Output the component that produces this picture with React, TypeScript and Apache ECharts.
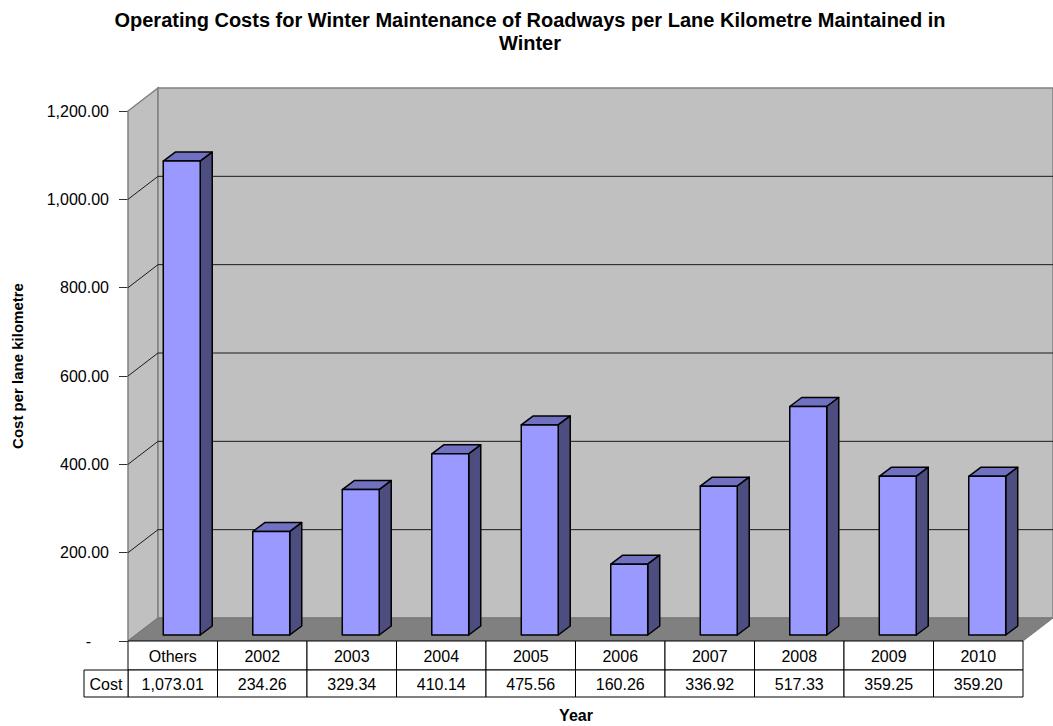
import React, { useEffect, useRef } from 'react';
import * as echarts from 'echarts';

const categories = ['Others', '2002', '2003', '2004', '2005', '2006', '2007', '2008', '2009', '2010'];
const costs = [1073.01, 234.26, 329.34, 410.14, 475.56, 160.26, 336.92, 517.33, 359.25, 359.2];
const gridTicks = [200, 400, 600, 800, 1000];
const titleLines = ['Operating Costs for Winter Maintenance of Roadways per Lane Kilometre Maintained in', 'Winter'];
const yTitle = 'Cost per lane kilometre';
const xTitle = 'Year';
const rowLabel = 'Cost';

const FONT = '"Liberation Sans", Arial, Helvetica, sans-serif';

const fmt = (v: number) => v.toLocaleString('en-US', { minimumFractionDigits: 2, maximumFractionDigits: 2 });

function txt(text: string, x: number, y: number, size: number, bold = false, extra: any = {}) {
  return {
    type: 'text',
    ...extra,
    style: {
      text, x, y,
      align: 'center', verticalAlign: 'middle',
      textAlign: 'center', textVerticalAlign: 'middle',
      fontSize: size, fontFamily: FONT, fontWeight: bold ? 'bold' : 'normal',
      fill: '#000',
    },
  };
}

export default function App() {
  const ref = useRef<HTMLDivElement>(null);
  useEffect(() => {
    const chart = echarts.init(ref.current!, null, { renderer: 'svg' });
    const DX = 30, DY = -23;        // wall depth
    const BDX = 12, BDY = -9;       // bar depth
    const BOX = 9, BOY = -6;        // bar front offset from front plane
    const option: any = {
      animation: false,
      grid: { left: 128, top: 111, width: 895, height: 530 },
      xAxis: { type: 'category', data: categories, show: false },
      yAxis: {
        type: 'value', min: 0, max: 1200, interval: 200,
        axisLine: { show: true, lineStyle: { color: '#808080', width: 1 } },
        axisTick: { show: true, length: 9, lineStyle: { color: '#333', width: 1 } },
        splitLine: { show: false },
        axisLabel: {
          margin: 19, fontSize: 16, color: '#000', fontFamily: FONT,
          formatter: (v: number) => (v === 0 ? '{d|-}' : fmt(v)),
          rich: { d: { padding: [0, 18, 0, 0], fontSize: 16, color: '#000', fontFamily: FONT } },
        },
      },
      graphic: [
        txt(titleLines[0], 530, 20, 20, true),
        txt(titleLines[1], 530, 43, 20, true),
        txt(yTitle, 0, 0, 15, true, { rotation: Math.PI / 2, x: 17, y: 366 }),
        txt(xTitle, 576, 715, 16, true),
      ],
      series: [
        {
          type: 'custom', z: 1, silent: true,
          data: [[0, 0]],
          renderItem: (params: any, api: any) => {
            const cs = params.coordSys;
            const x0 = cs.x, x1 = cs.x + cs.width, yT = cs.y, yB = cs.y + cs.height;
            const children: any[] = [];
            children.push({ type: 'polygon', shape: { points: [[x0, yT], [x0 + DX, yT + DY], [x0 + DX, yB + DY], [x0, yB]] }, style: { fill: '#c0c0c0', stroke: '#808080', lineWidth: 1.5 } });
            children.push({ type: 'rect', shape: { x: x0 + DX, y: yT + DY, width: x1 - x0, height: yB - yT }, style: { fill: '#c0c0c0', stroke: '#808080', lineWidth: 1.5 } });
            children.push({ type: 'polygon', shape: { points: [[x0, yB], [x0 + DX, yB + DY], [x1 + DX, yB + DY], [x1, yB]] }, style: { fill: '#808080', stroke: '#777', lineWidth: 1 } });
            gridTicks.forEach((v) => {
              const y = api.coord([0, v])[1];
              children.push({ type: 'line', shape: { x1: x0 + DX, y1: y + DY, x2: x1 + DX, y2: y + DY }, style: { stroke: '#1a1a1a', lineWidth: 1 } });
              children.push({ type: 'line', shape: { x1: x0, y1: y, x2: x0 + DX, y2: y + DY }, style: { stroke: '#1a1a1a', lineWidth: 1 } });
            });
            return { type: 'group', children };
          },
        },
        {
          type: 'custom', z: 2, silent: true,
          data: costs.map((v, i) => [i, v]),
          renderItem: (params: any, api: any) => {
            const i = api.value(0), v = api.value(1);
            const bw = api.size([1, 0])[0];
            const base = api.coord([i, 0]);
            const top = api.coord([i, v]);
            const w = bw * 0.413;
            const l = base[0] - w / 2 + BOX, r = l + w;
            const b = base[1] + BOY, t = top[1] + BOY;
            const st = { stroke: '#000', lineWidth: 1.5, lineJoin: 'round' };
            return {
              type: 'group',
              children: [
                { type: 'polygon', shape: { points: [[l, t], [l + BDX, t + BDY], [r + BDX, t + BDY], [r, t]] }, style: { fill: '#7171c1', ...st } },
                { type: 'polygon', shape: { points: [[r, t], [r + BDX, t + BDY], [r + BDX, b + BDY], [r, b]] }, style: { fill: '#4d4d80', ...st } },
                { type: 'rect', shape: { x: l, y: t, width: w, height: b - t }, style: { fill: '#9999ff', ...st } },
              ],
            };
          },
        },
        {
          type: 'custom', z: 3, silent: true,
          data: categories.map((c, i) => [i, costs[i]]),
          renderItem: (params: any, api: any) => {
            const i = api.value(0);
            const bw = api.size([1, 0])[0];
            const cx = api.coord([i, 0])[0];
            const x = cx - bw / 2;
            const y0 = params.coordSys.y + params.coordSys.height;
            const h1 = 29, h2 = 27;
            const cellStyle = { fill: '#fff', stroke: '#000', lineWidth: 1 };
            const children: any[] = [
              { type: 'rect', shape: { x, y: y0, width: bw, height: h1 }, style: cellStyle },
              { type: 'rect', shape: { x, y: y0 + h1, width: bw, height: h2 }, style: cellStyle },
              txt(categories[i], cx, y0 + h1 / 2 + 1, 16),
              txt(fmt(costs[i]), cx, y0 + h1 + h2 / 2 + 1, 16),
            ];
            if (i === 0) {
              const lw = 44;
              children.push({ type: 'rect', shape: { x: x - lw, y: y0 + h1, width: lw, height: h2 }, style: cellStyle });
              children.push(txt(rowLabel, x - lw / 2, y0 + h1 + h2 / 2 + 1, 16));
            }
            return { type: 'group', children };
          },
        },
      ],
    };
    chart.setOption(option);
    return () => chart.dispose();
  }, []);
  return <div ref={ref} style={{ position: 'absolute', left: 0, top: 0, width: 1053, height: 726, background: '#fff' }} />;
}
